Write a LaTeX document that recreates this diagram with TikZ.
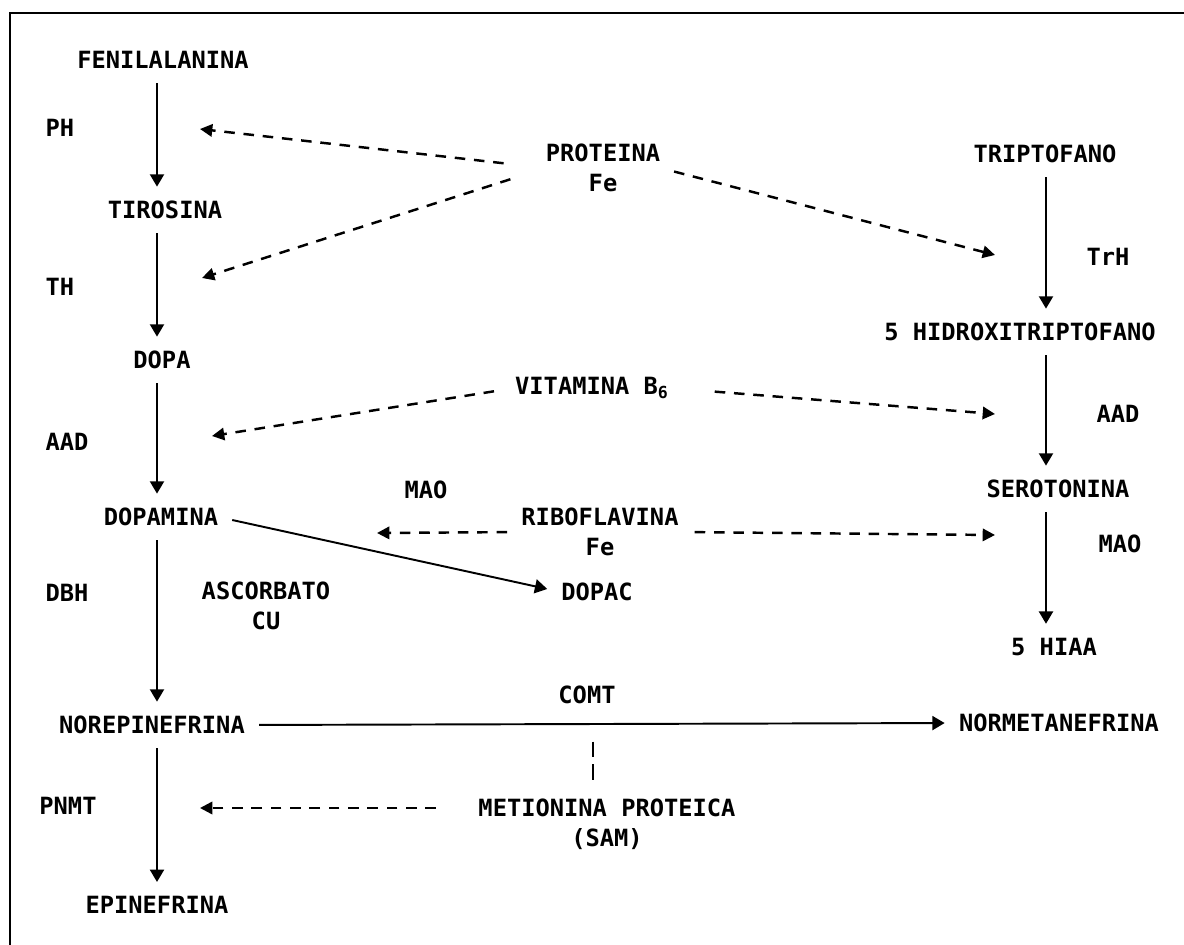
\documentclass[tikz,border=0pt]{standalone}
\usepackage{fontspec}
\newfontfamily\metfont{DejaVu Sans Mono}
\usetikzlibrary{arrows.meta}

\begin{document}
\begin{tikzpicture}[x=0.02cm, y=-0.02cm,
        every node/.style={font={\metfont\bfseries\fontsize{13.5}{17}\selectfont}, inner sep=0pt},
        dos/.style={align=center},
        paso/.style={line width=1.1pt, shorten <=8pt, shorten >=8pt, -{Triangle[length=7pt,width=8pt]}},
        cofac/.style={line width=1.4pt, dash pattern=on 6pt off 5pt, -{Triangle[length=7pt,width=7pt]}}]
    \useasboundingbox (0,0) rectangle (1184,945);
    \draw[line width=1.5pt] (10,945) -- (10,13) -- (1184,13);

    % catecolaminas
    \node (fen) at (163,60) {FENILALANINA};
    \node (tir) at (165,210) {TIROSINA};
    \node (dopa) at (162,360) {DOPA};
    \node (dopam) at (161,517) {DOPAMINA};
    \node (norepi) at (152,725) {NOREPINEFRINA};
    \node (epi) at (157,905) {EPINEFRINA};
    \node (dopac) at (597,592) {DOPAC};
    \node (normet) at (1059,723) {NORMETANEFRINA};
    % serotonina
    \node (trip) at (1045,154) {TRIPTOFANO};
    \node (hidrox) at (1020,332) {5 HIDROXITRIPTOFANO};
    \node (sero) at (1058,489) {SEROTONINA};
    \node (hiaa) at (1054,647) {5 HIAA};
    % enzimas
    \node (ph) at (60,128) {PH};
    \node (th) at (60,287) {TH};
    \node (aad) at (67,442) {AAD};
    \node (dbh) at (67,593) {DBH};
    \node (pnmt) at (68,806) {PNMT};
    \node (mao) at (426,490) {MAO};
    \node (comt) at (587,695) {COMT};
    \node (trh) at (1108,257) {TrH};
    \node (aadr) at (1118,414) {AAD};
    \node (maor) at (1120,544) {MAO};
    % cofactores
    \node[dos] (prot) at (603,168) {PROTEINA\\Fe};
    \node (vit) at (592,388) {VITAMINA B\textsubscript{6}};
    \node[dos] (ribo) at (600,532) {RIBOFLAVINA\\Fe};
    \node[dos] (asc) at (266,606) {ASCORBATO\\CU};
    \node[dos] (metio) at (607,824) {METIONINA PROTEICA\\(SAM)};

    \coordinate (colL) at (157,0);
    \coordinate (colR) at (1046,0);
    \coordinate (phT) at (200,129);
    \coordinate (thT) at (202,278);
    \coordinate (aadT) at (212,436);
    \coordinate (maoT) at (377,533);
    \coordinate (pnmtT) at (200,808);
    \coordinate (trhT) at (995,255);
    \coordinate (aadrT) at (995,414);
    \coordinate (maorT) at (995,535);

    \draw[paso] (fen.south -| colL) -- (tir.north -| colL);
    \draw[paso] (tir.south -| colL) -- (dopa.north -| colL);
    \draw[paso] (dopa.south -| colL) -- (dopam.north -| colL);
    \draw[paso] (dopam.south -| colL) -- (norepi.north -| colL);
    \draw[paso] (norepi.south -| colL) -- (epi.north -| colL);
    \draw[paso] (dopam.east) -- (dopac.west);
    \draw[paso] (norepi.east) -- coordinate[pos=0.487] (comtP) (normet.west);
    \draw[paso] (trip.south -| colR) -- (hidrox.north -| colR);
    \draw[paso] (hidrox.south -| colR) -- (sero.north -| colR);
    \draw[paso] (sero.south -| colR) -- (hiaa.north -| colR);

    \draw[line width=1pt, dash pattern=on 9pt off 4pt, shorten <=10pt, shorten >=6.5pt] (comtP) -- (comtP |- metio.north);

    \draw[cofac, shorten <=24pt] (prot.west) -- (phT);
    \draw[cofac, shorten <=21pt] (prot.west) -- (thT);
    \draw[cofac, shorten <=8pt] (prot.east) -- (trhT);
    \draw[cofac, shorten <=12pt] (vit.west) -- (aadT);
    \draw[cofac, shorten <=26pt] (vit.east) -- (aadrT);
    \draw[cofac, shorten <=8pt] (ribo.west) -- (maoT);
    \draw[cofac, shorten <=9pt] (ribo.east) -- (maorT);
    \draw[cofac, shorten <=24pt] (metio.west |- pnmtT) -- (pnmtT);
\end{tikzpicture}
\end{document}
